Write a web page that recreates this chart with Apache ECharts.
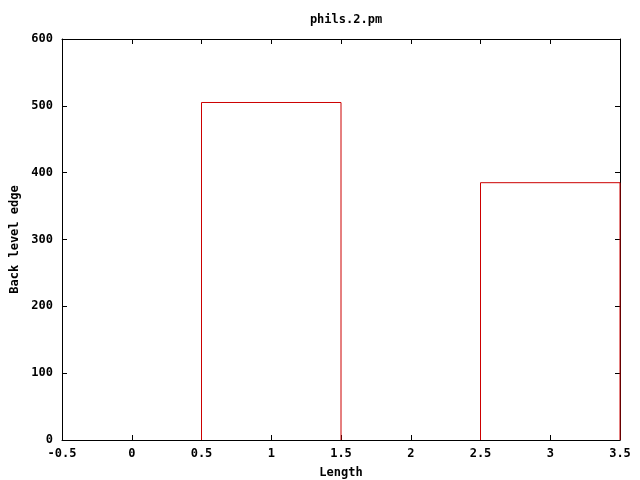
<!DOCTYPE html>
<html><head><meta charset="utf-8">
<script src="https://cdn.jsdelivr.net/npm/echarts@6/dist/echarts.min.js"></script>
<style>html,body{margin:0;padding:0;background:#fff}#c{width:640px;height:480px}</style>
</head><body><div id="c"></div>
<script>
var xValues = [0, 1, 2, 3];
var yValues = [0, 505, 0, 385];
var boxWidth = 1;
var titleText = 'phils.2.pm';
var xName = 'Length';
var yName = 'Back level edge';

var font = 'DejaVu Sans Mono';
var chart = echarts.init(document.getElementById('c'), null, {renderer: 'canvas'});
var data = xValues.map(function (x, i) { return [x, yValues[i]]; });
var lbl = {fontFamily: font, fontWeight: 'bold', fontSize: 12, color: '#000'};
var axLine = {show: true, onZero: false, lineStyle: {color: '#000', width: 1}};
function xAxis(pos, show) {
  return {type: 'value', position: pos, min: -0.5, max: 3.5, interval: 0.5,
    axisLine: axLine, axisTick: {show: true, inside: true, length: 5, lineStyle: {color: '#000'}},
    axisLabel: Object.assign({show: show, margin: 8,
      formatter: function (v) { return String(Math.round(v * 10) / 10); }}, lbl),
    splitLine: {show: false},
    name: show ? xName : '', nameLocation: 'middle', nameGap: 27, nameTextStyle: lbl};
}
function yAxis(pos, show) {
  return {type: 'value', position: pos, min: 0, max: 600, interval: 100,
    axisLine: axLine, axisTick: {show: true, inside: true, length: 5, lineStyle: {color: '#000'}},
    axisLabel: Object.assign({show: show, margin: 9}, lbl),
    splitLine: {show: false},
    name: show ? yName : '', nameLocation: 'middle', nameGap: 40, nameRotate: 90, nameTextStyle: lbl};
}
chart.setOption({
  animation: false,
  backgroundColor: '#fff',
  title: {text: titleText, left: 341, top: 9, textAlign: 'center',
    textStyle: {fontFamily: font, fontWeight: 'bold', fontSize: 12, color: '#000'}},
  grid: {left: 62, right: 20, top: 39, bottom: 40, containLabel: false, outerBoundsMode: 'none'},
  xAxis: [xAxis('bottom', true), xAxis('top', false)],
  yAxis: [yAxis('left', true), yAxis('right', false)],
  series: [{
    type: 'custom',
    clip: false,
    z: 1,
    data: data,
    renderItem: function (params, api) {
      var x = api.value(0), y = api.value(1);
      if (y === 0) return null;
      var cs = params.coordSys;
      var p0 = api.coord([x - boxWidth / 2, 0]);
      var p1 = api.coord([x + boxWidth / 2, y]);
      var minX = cs.x, maxX = cs.x + cs.width;
      var l = Math.max(minX, Math.min(maxX, p0[0]));
      var r = Math.max(minX, Math.min(maxX, p1[0]));
      return {type: 'polyline',
        shape: {points: [[l, p0[1]], [l, p1[1]], [r, p1[1]], [r, p0[1]]]},
        style: {fill: null, stroke: '#cc0000', lineWidth: 1}};
    }
  }]
});
</script></body></html>
